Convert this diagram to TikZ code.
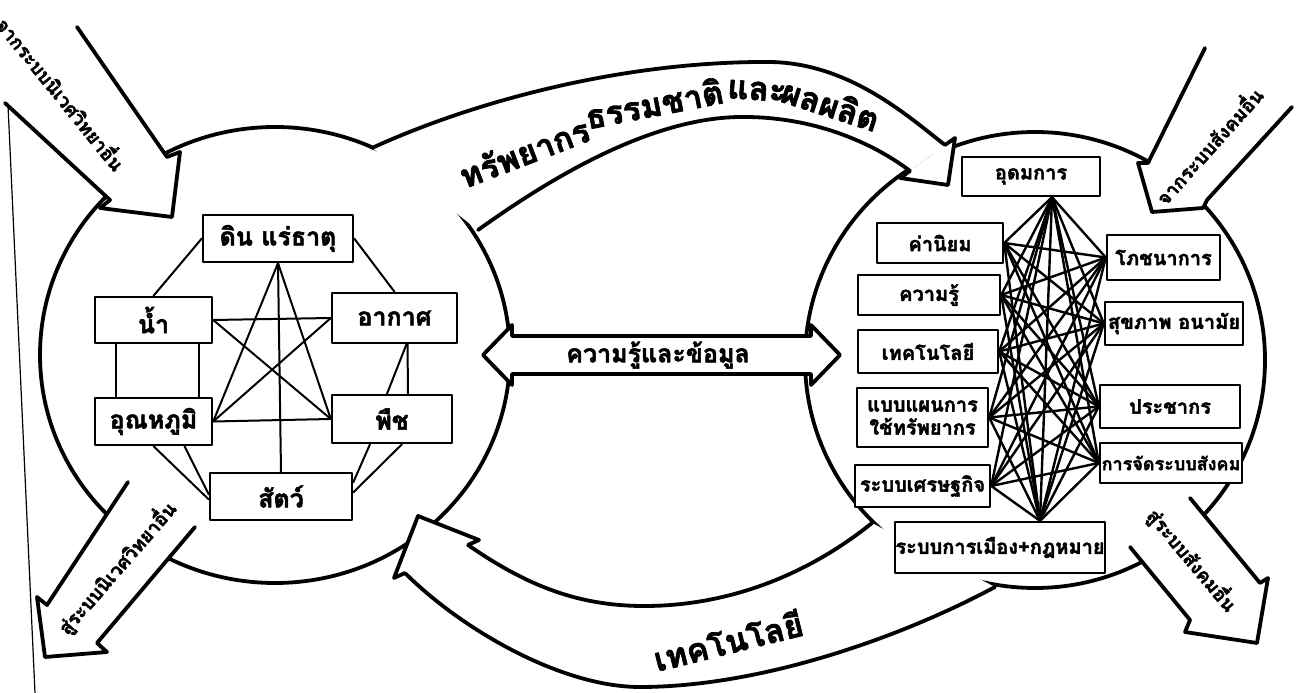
\documentclass[tikz,border=0pt]{standalone}
\usepackage{fontspec}
\newfontfamily\thai[Script=Thai, FakeBold=2]{Loma}
\tikzset{
  rim/.style={line width=3.8pt},
  box/.style={draw, line width=2.4pt, fill=white, inner sep=0pt, align=center},
  link/.style={line width=2pt},
  web/.style={line width=2.4pt},
  bigtext/.style={font=\thai\bfseries\fontsize{33}{35}\selectfont},
  sidetext/.style={font=\thai\bfseries\fontsize{19}{21}\selectfont},
}
\begin{document}
\begin{tikzpicture}[x=1pt,y=1pt, line join=round, line cap=round, font=\thai\bfseries]
\useasboundingbox (0,0) rectangle (1306,693);
\draw[line width=1.2pt] (8,588) -- (35,0);
% the two rings
\draw[rim] (275,338) ellipse [x radius=235, y radius=228];
\draw[rim] (1035,333) ellipse [x radius=230, y radius=228];
% bands
\fill[white] (372,545) .. controls (470,590) and (620,632) .. (770,631) .. controls (850,630) and (910,575) .. (945,548)
  -- (910,522) .. controls (880,545) and (820,577) .. (740,576) .. controls (640,575) and (530,500) .. (478,463) -- cycle;
\fill[white] (468,148) .. controls (530,105) and (580,88) .. (640,87) .. controls (730,86) and (810,120) .. (872,170)
  -- (995,106) .. controls (900,55) and (760,6) .. (640,6) .. controls (560,6) and (460,65) .. (405,120) -- cycle;
\draw[rim] (372,545) .. controls (470,590) and (620,632) .. (770,631) .. controls (850,630) and (910,575) .. (945,548);
\draw[rim] (478,463) .. controls (530,500) and (640,575) .. (740,576) .. controls (820,577) and (880,545) .. (910,522);
\draw[rim] (468,148) .. controls (530,105) and (580,88) .. (640,87) .. controls (730,86) and (810,120) .. (872,170);
\draw[rim] (405,120) .. controls (460,65) and (560,6) .. (640,6) .. controls (760,6) and (900,55) .. (995,106);
% band heads
\filldraw[rim, fill=white] (945,548) -- (955,555) -- (948,508) -- (900,515) -- (910,522);
\filldraw[rim, fill=white] (468,148) -- (479,153) -- (418,177) -- (394,115) -- (405,120);
% arrows in and out
\filldraw[rim, fill=white] (77,666) -- (167,536) -- (180,541) -- (172,476) -- (100,485) -- (110,493) -- (5,590);
\filldraw[rim, fill=white] (1205,645) -- (1148,530) -- (1138,530) -- (1152,481) -- (1203,485) -- (1207,493) -- (1292,586);
\filldraw[rim, fill=white] (128,211) -- (47,88) -- (37,96) -- (45,36) -- (107,41) -- (97,50) -- (195,166);
\filldraw[rim, fill=white] (1190,195) -- (1260,110) -- (1268,115) -- (1257,50) -- (1185,61) -- (1190,73) -- (1130,146);
% knowledge arrow
\filldraw[rim, fill=white] (483,338) -- (512,368) -- (512,357) -- (811,357) -- (811,368) -- (840,338)
  -- (811,308) -- (811,319) -- (512,319) -- (512,308) -- cycle;
\node at (658,338) {\fontsize{25}{27}\selectfont ความรู้และข้อมูล};

% left ring
\begin{scope}[every node/.style={box, font=\thai\bfseries\fontsize{25}{27}\selectfont}]
\node[minimum width=150, minimum height=47] (dirt) at (278,454.5) {ดิน แร่ธาตุ};
\node[minimum width=117, minimum height=46] (water) at (153.5,373) {น้ำ};
\node[minimum width=125, minimum height=50] (air) at (394.5,375) {อากาศ};
\node[minimum width=117, minimum height=47] (temp) at (153.5,271.5) {อุณหภูมิ};
\node[minimum width=120, minimum height=48] (plant) at (392,274) {พืช};
\node[minimum width=142, minimum height=47] (animal) at (281,196.5) {สัตว์};
\end{scope}
\draw[link] (dirt.south) -- (temp.east);
\draw[link] (dirt.south) -- (plant.west);
\draw[link] (dirt.south) -- (animal.north);
\draw[link] (water.east) -- (air.west);
\draw[link] (water.east) -- (plant.west);
\draw[link] (air.west) -- (temp.east);
\draw[link] (temp.east) -- (plant.west);
\draw[link] (dirt.west) -- (water.north);
\draw[link] (dirt.east) -- (air.north);
\draw[link] ([xshift=12pt]air.south) -- ([xshift=-5pt]plant.north);
\draw[link] ([xshift=13pt]air.south) -- ([xshift=16pt]plant.north);
\draw[link] ([xshift=-22pt]plant.south) -- ([yshift=14pt]animal.east);
\draw[link] ([xshift=10pt]plant.south) -- ([yshift=4pt]animal.east);
\draw[link] (temp.south) -- ([yshift=-3pt]animal.west);
\draw[link] ([xshift=31pt]temp.south) -- ([yshift=2pt]animal.west);
\draw[link] ([xshift=-38pt]water.south) -- ([xshift=-38pt]temp.north);
\draw[link] ([xshift=45pt]water.south) -- ([xshift=45pt]temp.north);

% right ring
\begin{scope}[every node/.style={box, font=\thai\bfseries\fontsize{20}{23}\selectfont}]
\node[minimum width=138, minimum height=39] (ideal) at (1031,516.5) {อุดมการ};
\node[minimum width=126, minimum height=40] (values) at (940,450) {ค่านิยม};
\node[minimum width=142, minimum height=40] (know) at (929,398) {ความรู้};
\node[minimum width=140, minimum height=43] (techbox) at (928,341.5) {เทคโนโลยี};
\node[minimum width=131, minimum height=59] (usage) at (922.5,275.5) {แบบแผนการ\\ใช้ทรัพยากร};
\node[minimum width=135, minimum height=42] (econ) at (922.5,207) {ระบบเศรษฐกิจ};
\node[minimum width=210, minimum height=51] (politic) at (1000,145.5) {ระบบการเมือง+กฎหมาย};
\node[minimum width=113, minimum height=45] (food) at (1163.5,435.5) {โภชนาการ};
\node[minimum width=138, minimum height=43] (health) at (1174,369.5) {สุขภาพ อนามัย};
\node[minimum width=140, minimum height=43] (people) at (1170,286.5) {ประชากร};
\node[minimum width=142, minimum height=40, font=\thai\bfseries\fontsize{18}{20}\selectfont] (social) at (1171,230) {การจัดระบบสังคม};
\end{scope}
\coordinate (top) at ([xshift=21pt]ideal.south);
\coordinate (bot) at ([xshift=40pt]politic.north);
\foreach \a in {values,know,techbox,usage,econ}
  \foreach \b in {food,health,people,social}
    \draw[web] (\a.east) -- (\b.west);
\foreach \a in {values,know,techbox,usage,econ}
  {\draw[web] (top) -- (\a.east); \draw[web] (bot) -- (\a.east);}
\foreach \b in {food,health,people,social}
  {\draw[web] (top) -- (\b.west); \draw[web] (bot) -- (\b.west);}
\draw[web] (top) -- (bot);

% labels
\node[bigtext, rotate=21] at (524,541) {ทรัพยากร};
\node[bigtext, rotate=11] at (654,590) {ธรรมชาติ};
\node[bigtext, rotate=-4] at (757,602) {และ};
\node[bigtext, rotate=-18] at (831,589) {ผลผลิต};
\node[bigtext, rotate=14] at (728,53) {เทคโนโลยี};
\node[sidetext, rotate=-51] at (62,600) {จากระบบนิเวศวิทยาอื่น};
\node[sidetext, rotate=48] at (1208,548) {จากระบบสังคมอื่น};
\node[sidetext, rotate=49] at (117,125) {สู่ระบบนิเวศวิทยาอื่น};
\node[sidetext, rotate=-50] at (1192,133) {สู่ระบบสังคมอื่น};
\end{tikzpicture}
\end{document}
